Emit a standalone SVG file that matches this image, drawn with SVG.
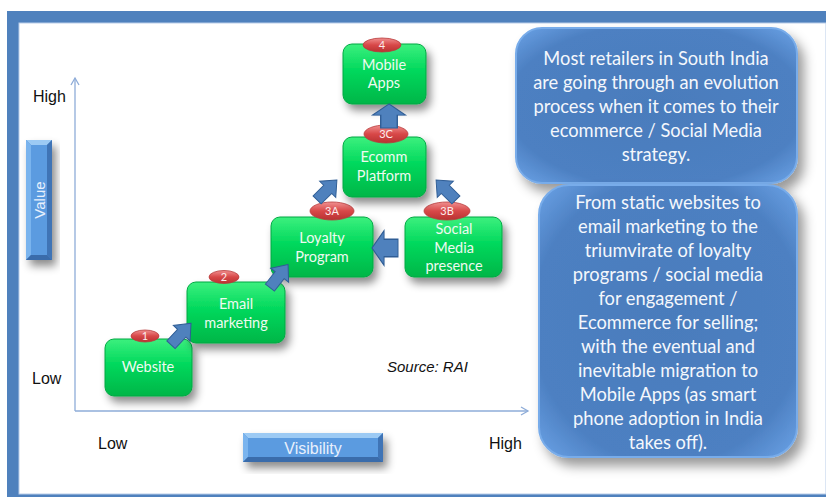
<svg xmlns="http://www.w3.org/2000/svg" xmlns:xlink="http://www.w3.org/1999/xlink" width="826" height="497" viewBox="0 0 826 497">
<style>
.ax{font-family:"Liberation Sans",Arial,sans-serif;font-size:16px;fill:#111}
.gt{font-family:Lato,"Noto Sans",sans-serif;font-size:14.5px;fill:#eefaf0;text-anchor:middle}
.bt{font-family:Lato,"Noto Sans",sans-serif;font-size:18.3px;fill:#f4f7fc;text-anchor:middle}
.et{font-family:Lato,"Noto Sans",sans-serif;font-size:11px;fill:#fbecec;text-anchor:middle}
.gbox{fill:url(#gg);stroke:#00a843;stroke-width:1;filter:url(#sh)}
.ell{fill:url(#rg);stroke:#b83a3a;stroke-width:0.8}
.bbox{fill:url(#bg);stroke:#78acea;stroke-width:2;filter:url(#sh2)}
.arr{fill:#4f81bd;stroke:#2f5d95;stroke-width:1}
.axis{stroke:#8eacd8;stroke-width:1.3;fill:none}
</style>
<defs>
<filter id="sh" x="-30%" y="-30%" width="160%" height="170%">
<feDropShadow dx="4" dy="6" stdDeviation="4" flood-color="#000" flood-opacity="0.45"/>
</filter>
<filter id="sh2" x="-20%" y="-20%" width="140%" height="140%">
<feDropShadow dx="6" dy="8" stdDeviation="6" flood-color="#000" flood-opacity="0.4"/>
</filter>
<linearGradient id="gg" x1="0" y1="0" x2="0" y2="1">
<stop offset="0" stop-color="#3cf07e"/>
<stop offset="0.45" stop-color="#00d85c"/>
<stop offset="1" stop-color="#00b648"/>
</linearGradient>
<linearGradient id="rg" x1="0" y1="0" x2="0" y2="1">
<stop offset="0" stop-color="#f09090"/>
<stop offset="0.5" stop-color="#d84848"/>
<stop offset="1" stop-color="#b83232"/>
</linearGradient>
<radialGradient id="bg" cx="0.5" cy="0.5" r="0.7">
<stop offset="0" stop-color="#4a7cbc"/>
<stop offset="0.75" stop-color="#4d80c2"/>
<stop offset="1" stop-color="#6aa2e6"/>
</radialGradient>
<path id="arr" d="M14,0 L1,-12 L1,-6 L-14,-6 L-14,6 L1,6 L1,12 Z"/>
<marker id="ah" markerWidth="10" markerHeight="10" refX="8" refY="5" orient="auto" markerUnits="userSpaceOnUse">
<path d="M1,1 L8,5 L1,9" fill="none" stroke="#8eacd8" stroke-width="1.3"/>
</marker>
</defs>

<g id="frame">
<rect x="7" y="11" width="819" height="486" fill="#4f81bd"/>
<rect x="19" y="23" width="807" height="471" fill="#ffffff" stroke="#b9cde9" stroke-width="1"/>
</g>

<g id="axes">
<line class="axis" x1="75" y1="411" x2="75" y2="78" marker-end="url(#ah)"/>
<line class="axis" x1="75" y1="411" x2="528" y2="411" marker-end="url(#ah)"/>
<text class="ax" x="33" y="102">High</text>
<text class="ax" x="32" y="384">Low</text>
<text class="ax" x="98" y="449">Low</text>
<text class="ax" x="489" y="449">High</text>
<text x="387" y="372" style="font-family:'Liberation Sans',Arial,sans-serif;font-size:15px;font-style:italic;fill:#111">Source: RAI</text>
</g>

<g id="value-label">
<rect x="26" y="140" width="26" height="120" fill="#4f8ad0" filter="url(#sh)"/>
<polygon points="26,140 52,140 47,145 31,145" fill="#9ccaf4"/>
<polygon points="26,140 31,145 31,255 26,260" fill="#7ab4ee"/>
<polygon points="52,140 52,260 47,255 47,145" fill="#3f74b6"/>
<polygon points="26,260 31,255 47,255 52,260" fill="#3a6cab"/>
<rect x="31" y="145" width="16" height="110" fill="#5b9be0"/>
<text x="0" y="0" transform="translate(44.5,200) rotate(-90)" style="font-family:'Liberation Sans',Arial,sans-serif;font-size:15px;fill:#e8f0fc;text-anchor:middle">Value</text>
</g>

<g id="visibility-label">
<rect x="243" y="433" width="140" height="29" fill="#4f8ad0" filter="url(#sh)"/>
<polygon points="243,433 383,433 378,438 248,438" fill="#9ccaf4"/>
<polygon points="243,433 248,438 248,457 243,462" fill="#7ab4ee"/>
<polygon points="383,433 383,462 378,457 378,438" fill="#3f74b6"/>
<polygon points="243,462 248,457 378,457 383,462" fill="#3a6cab"/>
<rect x="248" y="438" width="130" height="19" fill="#5b9be0"/>
<text x="313" y="454" style="font-family:'Liberation Sans',Arial,sans-serif;font-size:16px;fill:#e8f0fc;text-anchor:middle">Visibility</text>
</g>

<g id="website">
<rect class="gbox" x="105" y="339" width="87" height="57" rx="9"/>
<ellipse class="ell" cx="145" cy="336" rx="14" ry="6"/>
<text class="et" x="145" y="340">1</text>
<text class="gt" x="148" y="372">Website</text>
</g>

<g id="email">
<rect class="gbox" x="187" y="282" width="98" height="61" rx="9"/>
<ellipse class="ell" cx="224" cy="277" rx="15" ry="6.5"/>
<text class="et" x="224" y="281">2</text>
<text class="gt" x="236" y="309">Email</text>
<text class="gt" x="236" y="328">marketing</text>
</g>

<g id="loyalty">
<rect class="gbox" x="271" y="217" width="102" height="60" rx="9"/>
<ellipse class="ell" cx="332" cy="211" rx="22" ry="9"/>
<text class="et" x="332" y="215">3A</text>
<text class="gt" x="322" y="243">Loyalty</text>
<text class="gt" x="322" y="262">Program</text>
</g>

<g id="social">
<rect class="gbox" x="405" y="217" width="97" height="60" rx="9"/>
<text class="gt" x="454" y="234">Social</text>
<text class="gt" x="454" y="253">Media</text>
<text class="gt" x="454" y="271">presence</text>
<ellipse class="ell" cx="447" cy="211" rx="23" ry="9"/>
<text class="et" x="447" y="215">3B</text>
</g>

<g id="ecomm">
<rect class="gbox" x="343" y="137" width="83" height="60" rx="9"/>
<ellipse class="ell" cx="386" cy="134" rx="22" ry="9"/>
<text class="et" x="386" y="138">3C</text>
<text class="gt" x="384" y="162">Ecomm</text>
<text class="gt" x="384" y="181">Platform</text>
</g>

<g id="mobile">
<rect class="gbox" x="343" y="44" width="83" height="60" rx="9"/>
<ellipse class="ell" cx="382" cy="45" rx="19" ry="7"/>
<text class="et" x="382" y="49">4</text>
<text class="gt" x="384" y="70">Mobile</text>
<text class="gt" x="384" y="88">Apps</text>
</g>

<g id="connectors">
<use href="#arr" class="arr" transform="translate(181,334) rotate(-47) scale(1.05,0.95)"/>
<use href="#arr" class="arr" transform="translate(279,276) rotate(-52) scale(1.05,0.95)"/>
<use href="#arr" class="arr" transform="translate(327,190) rotate(-45) scale(1.0,0.95)"/>
<use href="#arr" class="arr" transform="translate(446,190) rotate(-135) scale(1.0,0.95)"/>
<use href="#arr" class="arr" transform="translate(389,116) rotate(-90) scale(0.86,1.38)"/>
<use href="#arr" class="arr" transform="translate(385,248) rotate(180) scale(0.93,1.45)"/>
</g>

<g id="note1">
<rect class="bbox" x="516" y="28" width="281" height="155" rx="26"/>
<text class="bt" x="656" y="65">Most retailers in South India</text>
<text class="bt" x="656" y="89">are going through an evolution</text>
<text class="bt" x="656" y="113">process when it comes to their</text>
<text class="bt" x="656" y="137">ecommerce / Social Media</text>
<text class="bt" x="656" y="161">strategy.</text>
</g>

<g id="note2">
<rect class="bbox" x="539" y="185" width="258" height="272" rx="30"/>
<text class="bt" x="668" y="209">From static websites to</text>
<text class="bt" x="668" y="233">email marketing to the</text>
<text class="bt" x="668" y="257">triumvirate of loyalty</text>
<text class="bt" x="668" y="281">programs / social media</text>
<text class="bt" x="668" y="305">for engagement /</text>
<text class="bt" x="668" y="329">Ecommerce for selling;</text>
<text class="bt" x="668" y="353">with the eventual and</text>
<text class="bt" x="668" y="377">inevitable migration to</text>
<text class="bt" x="668" y="401">Mobile Apps (as smart</text>
<text class="bt" x="668" y="425">phone adoption in India</text>
<text class="bt" x="668" y="449">takes off).</text>
</g>
</svg>
